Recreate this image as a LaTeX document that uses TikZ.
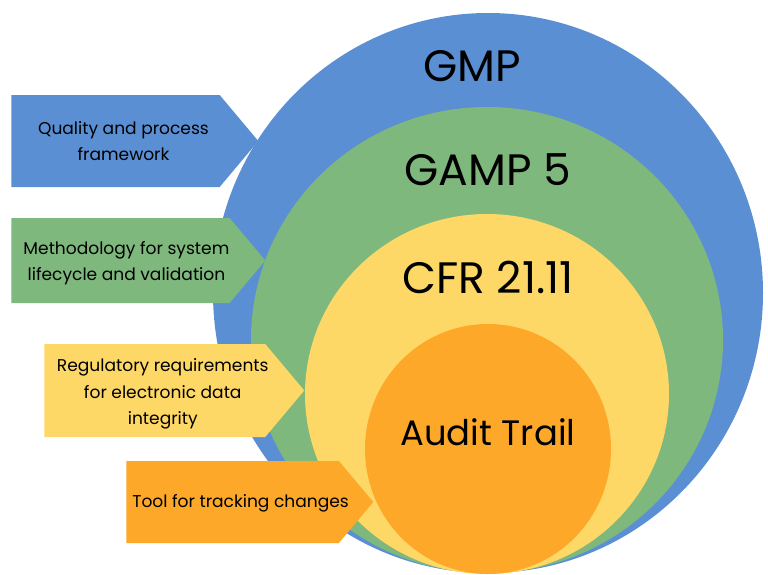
\documentclass[tikz,border=0pt]{standalone}
\usepackage{fontspec}
\setmainfont{Poppins}
\usetikzlibrary{shapes.symbols}

\definecolor{gmpblue}{RGB}{91,143,211}
\definecolor{gampgreen}{RGB}{126,184,125}
\definecolor{cfryellow}{RGB}{254,216,102}
\definecolor{auditorange}{RGB}{254,168,41}

\begin{document}
\begin{tikzpicture}[x=0.75pt, y=-0.75pt,
    tag/.style={signal, signal to=east, signal pointer angle=100, inner sep=0pt, anchor=west},
    tagtext/.style={align=center, inner sep=0pt, font=\fontsize{12.8}{19.8}\selectfont},
    ringtext/.style={font=\fontsize{33}{36}\selectfont}]

    \useasboundingbox (0,0) rectangle (768,575);
    \clip (0,0) rectangle (768,575);

    % Circles
    \fill[gmpblue] (488,293) ellipse [x radius=275, y radius=280];
    \fill[gampgreen] (487,340) ellipse [x radius=236, y radius=233];
    \fill[cfryellow] (487,394) ellipse [x radius=182, y radius=180];
    \fill[auditorange] (488,449) ellipse [x radius=123, y radius=125];

    % Circle names
    \node at (472,66) [ringtext] (gmp) {GMP};
    \node at (488,170) [ringtext] (gamp) {GAMP 5};
    \node at (488,277) [ringtext] (cfr) {CFR 21.11};
    \node at (488,432) [ringtext, font=\fontsize{26.5}{30}\selectfont] (audit) {Audit Trail};

    % Tags
    \node at (11,141) [tag, fill=gmpblue, minimum width=185.25pt, minimum height=69pt] (quality) {};
    \node at (11,260.5) [tag, fill=gampgreen, minimum width=190.5pt, minimum height=63.75pt] (method) {};
    \node at (44,390.5) [tag, fill=cfryellow, minimum width=195pt, minimum height=69.75pt] (regul) {};
    \node at (126,502) [tag, fill=auditorange, minimum width=185.25pt, minimum height=61.5pt] (tool) {};

    % Tag texts
    \node at ([xshift=6pt]quality.center) [tagtext] (qualitytext) {Quality and process\\framework};
    \node at ([xshift=4.5pt, yshift=-2pt]method.center) [tagtext] (methodtext) {Methodology for system\\lifecycle and validation};
    \node at ([xshift=6pt, yshift=-2.5pt]regul.center) [tagtext] (regultext) {Regulatory requirements\\for electronic data\\integrity};
    \node at ([xshift=6pt, yshift=-1pt]tool.center) [tagtext] (tooltext) {Tool for tracking changes};

\end{tikzpicture}
\end{document}
